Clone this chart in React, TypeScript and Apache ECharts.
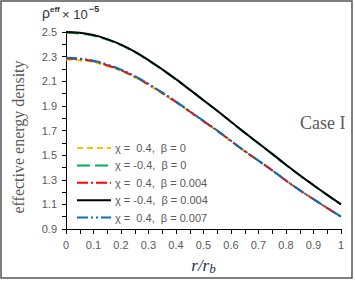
import React, { useEffect, useRef } from "react";
import * as echarts from "echarts";

const rValues = [0, 0.05, 0.1, 0.15, 0.2, 0.25, 0.3, 0.35, 0.4, 0.45, 0.5, 0.55, 0.6, 0.65, 0.7, 0.75, 0.8, 0.85, 0.9, 0.95, 1];

const yellowVals = [2.277, 2.271, 2.255, 2.224, 2.183, 2.132, 2.069, 2.0, 1.928, 1.851, 1.773, 1.695, 1.613, 1.53, 1.452, 1.374, 1.292, 1.214, 1.141, 1.069, 0.999];
const greenVals = [2.493, 2.488, 2.47, 2.437, 2.393, 2.336, 2.268, 2.194, 2.114, 2.03, 1.944, 1.858, 1.769, 1.681, 1.594, 1.508, 1.42, 1.336, 1.255, 1.176, 1.099];
const redVals = [2.285, 2.279, 2.262, 2.23, 2.189, 2.138, 2.074, 2.005, 1.932, 1.854, 1.776, 1.698, 1.615, 1.532, 1.454, 1.376, 1.293, 1.215, 1.142, 1.07, 1.0];
const blackVals = [2.5, 2.494, 2.475, 2.442, 2.397, 2.34, 2.272, 2.197, 2.117, 2.032, 1.946, 1.86, 1.771, 1.683, 1.596, 1.51, 1.422, 1.337, 1.256, 1.177, 1.1];
const blueVals = [2.29, 2.284, 2.267, 2.236, 2.194, 2.142, 2.078, 2.009, 1.935, 1.857, 1.778, 1.7, 1.617, 1.534, 1.455, 1.377, 1.294, 1.216, 1.143, 1.071, 1.001];

const seriesNames = [
  "χ =  0.4,  β = 0",
  "χ = -0.4,  β = 0",
  "χ =  0.4,  β = 0.004",
  "χ = -0.4,  β = 0.004",
  "χ =  0.4,  β = 0.007",
];
const seriesColors = ["#FFC000", "#00B050", "#FF0000", "#000000", "#0070C0"];
const seriesDashes: any[] = [[6, 4], [13, 5], [11, 3, 2, 3], "solid", [11, 3, 2, 3, 2, 3]];

const GRAY = "#595959";
const SANS = "'Liberation Sans', Arial, sans-serif";
const SERIF = "'Liberation Serif', 'Times New Roman', serif";

function pairs(vals: number[]) {
  return rValues.map((r, i) => [r, vals[i]]);
}

export default function App() {
  const ref = useRef<HTMLDivElement>(null);
  useEffect(() => {
    if (!ref.current) return;
    const chart = echarts.init(ref.current, null, { renderer: "svg" });
    const allVals = [yellowVals, greenVals, redVals, blackVals, blueVals];
    const series = seriesNames.map((name, i) => ({
      name,
      type: "line",
      data: pairs(allVals[i]),
      smooth: true,
      symbol: "none",
      showSymbol: false,
      z: 2 + i,
      lineStyle: { color: seriesColors[i], width: 2, type: seriesDashes[i] },
      itemStyle: { color: seriesColors[i] },
    }));
    const legendY0 = 148;
    const legendStep = 17.4;
    const legendGraphics: any[] = [];
    seriesNames.forEach((name, i) => {
      const y = legendY0 + i * legendStep;
      const dash = seriesDashes[i];
      legendGraphics.push({
        type: "line",
        shape: { x1: 77, y1: y, x2: 111, y2: y },
        style: {
          stroke: seriesColors[i],
          lineWidth: 2,
          lineDash: Array.isArray(dash) ? dash : null,
        },
        silent: true,
      });
      legendGraphics.push({
        type: "text",
        x: 115,
        y,
        style: {
          text: name,
          fill: GRAY,
          font: `11px ${SANS}`,
          align: "left",
          verticalAlign: "middle",
        },
        silent: true,
      });
    });
    chart.setOption({
      animation: false,
      grid: { left: 66, right: 14, top: 32, bottom: 57 },
      xAxis: {
        type: "value",
        min: 0,
        max: 1,
        interval: 0.05,
        axisLine: { lineStyle: { color: "#000", width: 1 } },
        axisTick: { show: true, length: 5, inside: false, lineStyle: { color: "#000" } },
        splitLine: { show: false },
        axisLabel: {
          color: GRAY,
          fontFamily: SANS,
          fontSize: 11,
          margin: 10,
          formatter: (v: number) => {
            const k = Math.round(v * 20);
            if (k % 2 !== 0) return "";
            return String(Math.round(v * 10) / 10);
          },
        },
        name: "{i|r/r}{s|b}",
        nameLocation: "middle",
        nameGap: 27,
        nameTextStyle: {
          rich: {
            i: { fontFamily: SERIF, fontStyle: "italic", fontSize: 17, color: "#1f2d50" },
            s: { fontFamily: SERIF, fontStyle: "italic", fontSize: 13, color: "#1f2d50", verticalAlign: "bottom", padding: [6, 0, 0, 0] },
          },
        },
      },
      yAxis: {
        type: "value",
        min: 0.9,
        max: 2.5,
        interval: 0.1,
        axisLine: { show: true, lineStyle: { color: "#000", width: 1 } },
        axisTick: { show: true, length: 4, inside: false, lineStyle: { color: "#000" } },
        splitLine: { show: false },
        axisLabel: {
          color: GRAY,
          fontFamily: SANS,
          fontSize: 11,
          margin: 9,
          formatter: (v: number) => {
            const k = Math.round(v * 10);
            if (k % 2 !== 1) return "";
            return (k / 10).toFixed(1);
          },
        },
      },
      graphic: [
        {
          type: "rect",
          shape: { x: 1, y: 1, width: 351, height: 277 },
          style: { fill: "none", stroke: "#555", lineWidth: 1.5 },
          silent: true,
        },
        {
          type: "text",
          x: 18,
          y: 137,
          rotation: Math.PI / 2,
          style: {
            text: "effective energy density",
            fill: GRAY,
            font: `16px ${SERIF}`,
            align: "center",
            verticalAlign: "middle",
          },
        },
        {
          type: "text",
          x: 300,
          y: 123,
          style: {
            text: "Case I",
            fill: GRAY,
            font: `18px ${SERIF}`,
            align: "left",
            verticalAlign: "middle",
          },
        },
        {
          type: "text",
          x: 42,
          y: 13,
          style: {
            text: "ρ",
            fill: "#333",
            font: `14px ${SANS}`,
            align: "left",
            verticalAlign: "middle",
          },
        },
        {
          type: "text",
          x: 50,
          y: 9,
          style: {
            text: "eff",
            fill: "#333",
            font: `bold 8px ${SANS}`,
            align: "left",
            verticalAlign: "middle",
          },
        },
        {
          type: "text",
          x: 62,
          y: 14,
          style: {
            text: "× 10",
            fill: "#333",
            font: `13px ${SANS}`,
            align: "left",
            verticalAlign: "middle",
          },
        },
        {
          type: "text",
          x: 89,
          y: 9,
          style: {
            text: "−5",
            fill: "#333",
            font: `bold 9px ${SANS}`,
            align: "left",
            verticalAlign: "middle",
          },
        },
        ...legendGraphics,
      ],
      series,
    });
    return () => chart.dispose();
  }, []);
  return (
    <div
      ref={ref}
      style={{ position: "fixed", left: 0, top: 0, width: 355, height: 286, background: "#fff" }}
    />
  );
}
